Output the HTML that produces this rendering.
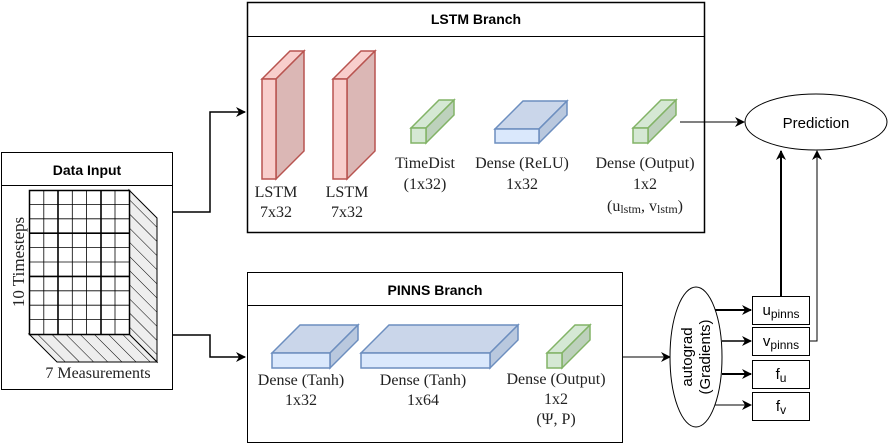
<!DOCTYPE html>
<html><head><meta charset="utf-8"><style>
html,body{margin:0;padding:0;background:#fff}
svg{display:block}
.s{font-family:"Liberation Serif",serif;font-size:16px;fill:#222}
.h{font-family:"Liberation Sans",sans-serif;font-size:14px;font-weight:bold}
.a{font-family:"Liberation Sans",sans-serif;font-size:15px}
</style></head><body>
<svg width="889" height="445" viewBox="0 0 889 445" xmlns="http://www.w3.org/2000/svg">
<defs>
<marker id="ar" markerWidth="10" markerHeight="10" refX="9" refY="5" orient="auto" markerUnits="userSpaceOnUse">
<path d="M0,0 L10,5 L0,10 L3,5 Z" fill="#000"/></marker>
<pattern id="hatch" width="10" height="10" patternUnits="userSpaceOnUse" patternTransform="rotate(-45)">
<rect width="10" height="10" fill="#eee"/><line x1="0" y1="0" x2="0" y2="10" stroke="#000" stroke-width="1"/></pattern>
</defs>
<!-- LSTM Branch -->
<rect x="247.5" y="2.5" width="457" height="230" fill="#fff" stroke="#000" stroke-width="1.5"/>
<line x1="247" y1="36.5" x2="705" y2="36.5" stroke="#000"/>
<text x="476" y="24" text-anchor="middle" class="h">LSTM Branch</text>
<!-- PINNS Branch -->
<rect x="247.5" y="272.5" width="375" height="170" fill="#fff" stroke="#000" stroke-width="1"/>
<line x1="247" y1="305.5" x2="623" y2="305.5" stroke="#000"/>
<text x="435" y="295" text-anchor="middle" class="h">PINNS Branch</text>
<!-- Data Input -->
<rect x="1.5" y="152.5" width="171" height="237" fill="#fff" stroke="#000"/>
<line x1="1" y1="185.5" x2="173" y2="185.5" stroke="#000"/>
<text x="87" y="175" text-anchor="middle" class="h">Data Input</text>
<g stroke="#000">
<polygon points="129,190 157,218 157,362 129,334" fill="url(#hatch)"/>
<polygon points="29,334 129,334 157,362 57,362" fill="url(#hatch)"/>
<rect x="29.5" y="190.5" width="100" height="144" fill="#fff" stroke-width="1.5"/>
<g stroke-width="0.8">
<line x1="43.8" y1="190" x2="43.8" y2="334"/><line x1="58" y1="190" x2="58" y2="334" stroke-width="1.6"/>
<line x1="72.3" y1="190" x2="72.3" y2="334"/><line x1="86.6" y1="190" x2="86.6" y2="334"/>
<line x1="101" y1="190" x2="101" y2="334" stroke-width="1.6"/><line x1="115" y1="190" x2="115" y2="334"/>
<line x1="29" y1="204.4" x2="129" y2="204.4"/><line x1="29" y1="218.8" x2="129" y2="218.8"/>
<line x1="29" y1="233.2" x2="129" y2="233.2" stroke-width="1.6"/><line x1="29" y1="247.6" x2="129" y2="247.6"/>
<line x1="29" y1="262" x2="129" y2="262"/><line x1="29" y1="276.4" x2="129" y2="276.4" stroke-width="1.6"/>
<line x1="29" y1="290.8" x2="129" y2="290.8"/><line x1="29" y1="305.2" x2="129" y2="305.2"/>
<line x1="29" y1="319.6" x2="129" y2="319.6"/>
</g></g>
<text transform="translate(24,262) rotate(-90)" text-anchor="middle" class="s" style="font-size:17px">10 Timesteps</text>
<text x="98" y="378" text-anchor="middle" class="s">7 Measurements</text>
<!-- connectors -->
<g fill="none" stroke="#000" stroke-width="1.5">
<polyline points="173,212 210,212 210,112 245,112" marker-end="url(#ar)"/>
<polyline points="173,335 210,335 210,357 245,357" marker-end="url(#ar)"/>
<line x1="680" y1="122" x2="744" y2="122" stroke-width="1" marker-end="url(#ar)"/>
<line x1="781" y1="296" x2="781" y2="151" stroke-width="2" marker-end="url(#ar)"/>
<polyline points="810,341 817,341 817,151" stroke-width="1" marker-end="url(#ar)"/>
<line x1="623" y1="357" x2="670" y2="357" stroke-width="1" marker-end="url(#ar)"/>
<line x1="715" y1="310" x2="751" y2="310" stroke-width="2" marker-end="url(#ar)"/>
<line x1="722" y1="341" x2="751" y2="341" stroke-width="1.5" marker-end="url(#ar)"/>
<line x1="722" y1="374" x2="751" y2="374" stroke-width="2" marker-end="url(#ar)"/>
<line x1="715" y1="405" x2="751" y2="405" stroke-width="1" marker-end="url(#ar)"/>
</g>
<!-- LSTM layers -->
<g stroke="#b85450" stroke-width="1.5">
<polygon points="262,79 290,51 304,51 276,79" fill="#f8cecc"/><polygon points="276,79 304,51 304,151 276,179" fill="#dbb7b5"/><rect x="262" y="79" width="14" height="100" fill="#f8cecc"/>
<polygon points="333,79 361,51 375,51 347,79" fill="#f8cecc"/><polygon points="347,79 375,51 375,151 347,179" fill="#dbb7b5"/><rect x="333" y="79" width="14" height="100" fill="#f8cecc"/>
</g>
<g stroke="#82b366" stroke-width="1.5">
<polygon points="411,128 439,100 454,100 426,128" fill="#d5e8d4"/><polygon points="426,128 454,100 454,115 426,143" fill="#bdd1bc"/><rect x="411" y="128" width="15" height="15" fill="#d5e8d4"/>
<polygon points="633,128 661,100 676,100 648,128" fill="#d5e8d4"/><polygon points="648,128 676,100 676,115 648,143" fill="#bdd1bc"/><rect x="633" y="128" width="15" height="15" fill="#d5e8d4"/>
<polygon points="547,353 575,325 590,325 562,353" fill="#d5e8d4"/><polygon points="562,353 590,325 590,340 562,368" fill="#bdd1bc"/><rect x="547" y="353" width="15" height="15" fill="#d5e8d4"/>
</g>
<g stroke="#6c8ebf" stroke-width="1.5">
<polygon points="495,129 523,101 567,101 539,129" fill="#cad6ea"/><polygon points="539,129 567,101 567,115 539,143" fill="#b9c8de"/><rect x="495" y="129" width="44" height="14" fill="#dae8fc"/>
<polygon points="272,353 300,325 358,325 330,353" fill="#cad6ea"/><polygon points="330,353 358,325 358,340 330,368" fill="#b9c8de"/><rect x="272" y="353" width="58" height="15" fill="#dae8fc"/>
<polygon points="361,353 389,325 518,325 490,353" fill="#cad6ea"/><polygon points="490,353 518,325 518,340 490,368" fill="#b9c8de"/><rect x="361" y="353" width="129" height="15" fill="#dae8fc"/>
</g>
<!-- LSTM labels -->
<text class="s" text-anchor="middle"><tspan x="276" y="197">LSTM</tspan><tspan x="276" y="217">7x32</tspan></text>
<text class="s" text-anchor="middle"><tspan x="347" y="197">LSTM</tspan><tspan x="347" y="217">7x32</tspan></text>
<text class="s" text-anchor="middle"><tspan x="425" y="168">TimeDist</tspan><tspan x="425" y="189">(1x32)</tspan></text>
<text class="s" text-anchor="middle"><tspan x="522" y="168">Dense (ReLU)</tspan><tspan x="522" y="189">1x32</tspan></text>
<text class="s" text-anchor="middle"><tspan x="645" y="168">Dense (Output)</tspan><tspan x="645" y="189">1x2</tspan></text>
<text x="645" y="211" text-anchor="middle" class="s">(u<tspan font-size="12" dy="2">lstm</tspan><tspan dy="-2">, v</tspan><tspan font-size="12" dy="2">lstm</tspan><tspan dy="-2">)</tspan></text>
<!-- PINNS labels -->
<text class="s" text-anchor="middle"><tspan x="301" y="385">Dense (Tanh)</tspan><tspan x="301" y="405">1x32</tspan></text>
<text class="s" text-anchor="middle"><tspan x="423" y="385">Dense (Tanh)</tspan><tspan x="423" y="405">1x64</tspan></text>
<text class="s" text-anchor="middle"><tspan x="556" y="384">Dense (Output)</tspan><tspan x="556" y="404">1x2</tspan><tspan x="556" y="424">(Ψ, P)</tspan></text>
<!-- Prediction -->
<ellipse cx="816" cy="122" rx="71" ry="28" fill="#fff" stroke="#000"/>
<text x="816" y="128" text-anchor="middle" class="a">Prediction</text>
<!-- autograd -->
<ellipse cx="696" cy="357" rx="26" ry="70" fill="#fff" stroke="#000"/>
<text transform="translate(696,357) rotate(-90)" text-anchor="middle" class="a"><tspan x="0" y="-4">autograd</tspan><tspan x="0" y="14">(Gradients)</tspan></text>
<!-- output boxes -->
<g fill="#fff" stroke="#000">
<rect x="752.5" y="296.5" width="57" height="28"/><rect x="752.5" y="327.5" width="57" height="28"/>
<rect x="752.5" y="360.5" width="57" height="28"/><rect x="752.5" y="392.5" width="57" height="28"/>
</g>
<text x="781" y="315" text-anchor="middle" class="a">u<tspan font-size="12" dy="3">pinns</tspan></text>
<text x="781" y="346" text-anchor="middle" class="a">v<tspan font-size="12" dy="3">pinns</tspan></text>
<text x="781" y="379" text-anchor="middle" class="a">f<tspan font-size="12" dy="3">u</tspan></text>
<text x="781" y="411" text-anchor="middle" class="a">f<tspan font-size="12" dy="3">v</tspan></text>
</svg>
</body></html>
